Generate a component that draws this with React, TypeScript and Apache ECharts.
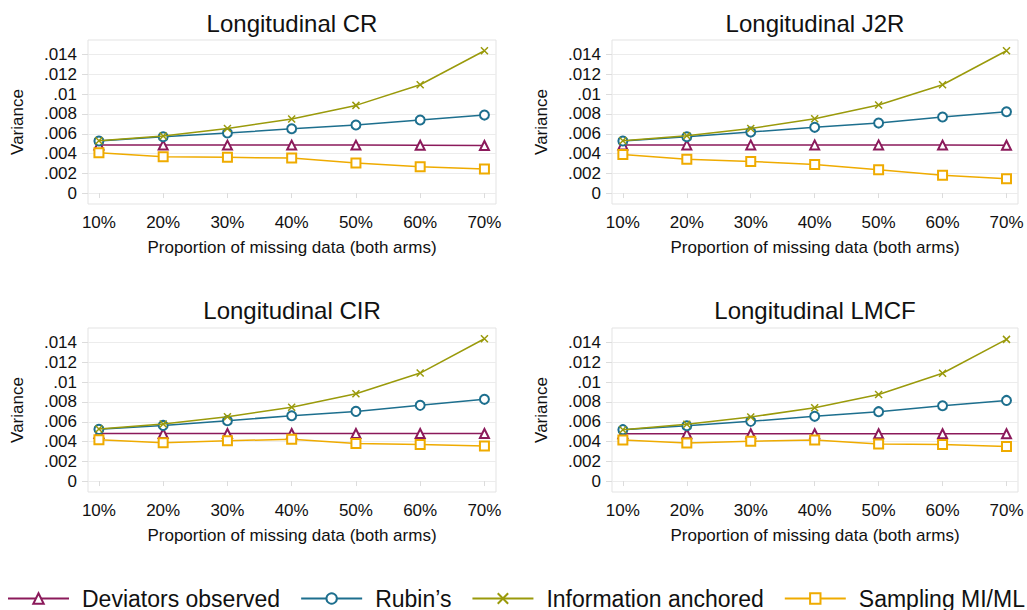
import React, { useEffect, useRef } from "react";
import * as echarts from "echarts";

const pct = [10, 20, 30, 40, 50, 60, 70];
const yTicks = [0, 0.002, 0.004, 0.006, 0.008, 0.01, 0.012, 0.014];
const panelTitles = ["Longitudinal CR", "Longitudinal J2R", "Longitudinal CIR", "Longitudinal LMCF"];
const seriesNames = ["Deviators observed", "Rubin\u2019s", "Information anchored", "Sampling MI/ML"];

// CR
const devCR = [0.00485, 0.00485, 0.00485, 0.00485, 0.00485, 0.00484, 0.00481];
const rubCR = [0.00526, 0.0057, 0.00607, 0.00651, 0.00688, 0.00739, 0.00789];
const infCR = [0.0053, 0.00577, 0.00654, 0.00749, 0.00887, 0.01096, 0.0144];
const smpCR = [0.00408, 0.00368, 0.00361, 0.00354, 0.00304, 0.00266, 0.00243];
// J2R
const devJ2R = [0.00487, 0.00487, 0.00487, 0.00487, 0.00487, 0.00485, 0.00483];
const rubJ2R = [0.00526, 0.0057, 0.00617, 0.00665, 0.00708, 0.00769, 0.00823];
const infJ2R = [0.0053, 0.0058, 0.00654, 0.00752, 0.00891, 0.01096, 0.0144];
const smpJ2R = [0.00391, 0.00341, 0.0032, 0.0029, 0.00236, 0.00179, 0.00145];
// CIR
const devCIR = [0.00481, 0.00481, 0.00481, 0.00481, 0.00481, 0.00481, 0.00481];
const rubCIR = [0.00523, 0.00563, 0.00611, 0.00661, 0.00705, 0.00766, 0.00827];
const infCIR = [0.00526, 0.00577, 0.00651, 0.00746, 0.00884, 0.01093, 0.0144];
const smpCIR = [0.00418, 0.00388, 0.00408, 0.00422, 0.00381, 0.00371, 0.00354];
// LMCF
const devLMCF = [0.00479, 0.00479, 0.00479, 0.00479, 0.00479, 0.00479, 0.00479];
const rubLMCF = [0.0052, 0.0056, 0.00604, 0.00655, 0.00702, 0.00762, 0.00816];
const infLMCF = [0.0052, 0.00574, 0.00648, 0.00742, 0.00876, 0.01091, 0.01434];
const smpLMCF = [0.00416, 0.00386, 0.00403, 0.00416, 0.00376, 0.00369, 0.00349];

const panels = [
  [devCR, rubCR, infCR, smpCR],
  [devJ2R, rubJ2R, infJ2R, smpJ2R],
  [devCIR, rubCIR, infCIR, smpCIR],
  [devLMCF, rubLMCF, infLMCF, smpLMCF],
];

const colors = ["#8b1a5b", "#1d6f8e", "#9a9a0b", "#efab00"];
const symbols = ["emptyTriangle", "emptyCircle", "path://M0,0L10,10M10,0L0,10", "emptyRect"];
const symbolSizes = [9, 9, 7, 9];

const FONT = "'Liberation Sans', Arial, Helvetica, sans-serif";

const grids = [
  { left: 88, top: 40, width: 408, height: 164 },
  { left: 612, top: 40, width: 406, height: 164 },
  { left: 88, top: 328, width: 408, height: 164 },
  { left: 612, top: 328, width: 406, height: 164 },
];
const titlePos = [
  [292, 23],
  [815, 23],
  [292, 310],
  [815, 310],
];

export default function App() {
  const ref = useRef<HTMLDivElement>(null);
  useEffect(() => {
    if (!ref.current) return;
    const chart = echarts.init(ref.current, null, { renderer: "svg" });
    const xAxes: any[] = [];
    const yAxes: any[] = [];
    const series: any[] = [];
    grids.forEach((g, gi) => {
      xAxes.push({
        type: "value",
        gridIndex: gi,
        min: 8.3,
        max: 71.8,
        name: "Proportion of missing data (both arms)",
        nameLocation: "middle",
        nameGap: 35,
        nameTextStyle: { fontSize: 17, color: "#111", fontFamily: FONT },
        axisLine: { show: false },
        axisTick: { show: true, customValues: pct, length: 5, lineStyle: { color: "#dcdcdc" } },
        axisLabel: {
          customValues: pct,
          formatter: (v: number) => v + "%",
          fontSize: 17,
          color: "#111",
          fontFamily: FONT,
          margin: 10,
        },
        splitLine: { show: false },
      });
      yAxes.push({
        type: "value",
        gridIndex: gi,
        min: -0.00111,
        max: 0.01549,
        name: "Variance",
        nameLocation: "middle",
        nameGap: 62,
        nameRotate: 90,
        nameTextStyle: { fontSize: 17, color: "#111", fontFamily: FONT },
        axisLine: { show: false },
        axisTick: { show: true, customValues: yTicks, length: 6, lineStyle: { color: "#dcdcdc" } },
        axisLabel: {
          customValues: yTicks,
          formatter: (v: number) => (v === 0 ? "0" : String(v).replace(/^0\./, ".")),
          fontSize: 17,
          color: "#111",
          fontFamily: FONT,
          margin: 11,
        },
        splitLine: { show: true, lineStyle: { color: "#ececec", width: 1 } },
      });
      panels[gi].forEach((vals, si) => {
        series.push({
          type: "line",
          name: seriesNames[si],
          xAxisIndex: gi,
          yAxisIndex: gi,
          data: pct.map((p, i) => [p, vals[i]]),
          symbol: symbols[si],
          symbolSize: symbolSizes[si],
          showAllSymbol: true,
          lineStyle: { color: colors[si], width: 1.5 },
          itemStyle: { color: colors[si], borderColor: colors[si], borderWidth: 1.5 },
          emphasis: { disabled: true },
          z: 2 + si,
        });
      });
    });
    const option: any = {
      animation: false,
      backgroundColor: "#ffffff",
      textStyle: { fontFamily: FONT },
      grid: grids.map((g) => ({
        ...g,
        show: true,
        backgroundColor: "#ffffff",
        borderColor: "#e3e3e3",
        borderWidth: 1,
        containLabel: false,
      })),
      xAxis: xAxes,
      yAxis: yAxes,
      series,
      legend: {
        data: seriesNames,
        left: 7,
        top: 587,
        width: 1020,
        padding: 0,
        itemWidth: 61,
        itemHeight: 13,
        itemGap: 20,
        selectedMode: false,
        textStyle: { fontSize: 23, color: "#111", fontFamily: FONT, padding: [0, 0, 0, 8] },
      },
      graphic: panelTitles.map((t, i) => ({
        type: "text",
        x: titlePos[i][0],
        y: titlePos[i][1],
        style: {
          text: t,
          fontSize: 24,
          fontFamily: FONT,
          fill: "#111",
          textAlign: "center",
          textVerticalAlign: "middle",
        },
      })),
    };
    chart.setOption(option);
    return () => chart.dispose();
  }, []);
  return (
    <div
      ref={ref}
      style={{ position: "fixed", left: 0, top: 0, width: 1027, height: 610, background: "#fff" }}
    />
  );
}
